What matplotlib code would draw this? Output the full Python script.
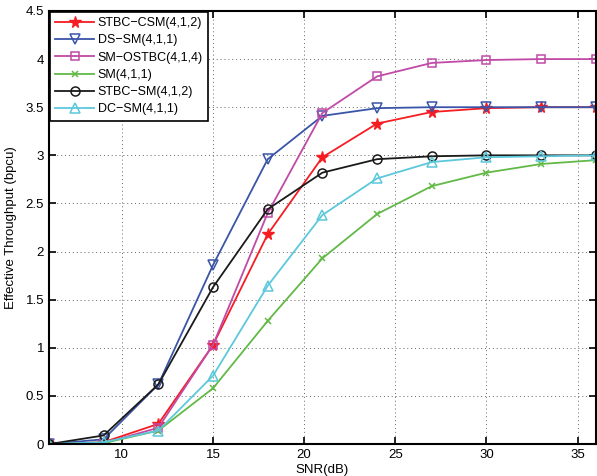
import numpy as np
import matplotlib
matplotlib.use("Agg")
import matplotlib.pyplot as plt

plt.rcParams['font.family'] = ['Liberation Sans', 'DejaVu Sans']

snr = [6, 9, 12, 15, 18, 21, 24, 27, 30, 33, 36]

stbc_csm = [0, 0.02, 0.21, 1.03, 2.18, 2.98, 3.33, 3.45, 3.49, 3.50, 3.50]
ds_sm = [0, 0.05, 0.62, 1.86, 2.96, 3.41, 3.49, 3.50, 3.50, 3.50, 3.50]
sm_ostbc = [0, 0.01, 0.17, 1.03, 2.40, 3.44, 3.82, 3.96, 3.99, 4.00, 4.00]
sm = [0, 0.01, 0.14, 0.58, 1.28, 1.93, 2.39, 2.68, 2.82, 2.91, 2.95]
stbc_sm = [0, 0.09, 0.62, 1.63, 2.44, 2.82, 2.96, 2.99, 3.00, 3.00, 3.00]
dc_sm = [0, 0.02, 0.14, 0.71, 1.645, 2.38, 2.76, 2.93, 2.98, 2.99, 3.00]

labels = ['STBC\u2212CSM(4,1,2)', 'DS\u2212SM(4,1,1)', 'SM\u2212OSTBC(4,1,4)',
          'SM(4,1,1)', 'STBC\u2212SM(4,1,2)', 'DC\u2212SM(4,1,1)']

fig = plt.figure(figsize=(5.97, 4.76), dpi=100)
ax = fig.add_axes([0.082, 0.067, 0.916, 0.91])

ax.plot(snr, stbc_csm, color='#f51d22', marker='*', ms=8.5, mfc='#f51d22', lw=1.3, label=labels[0])
ax.plot(snr, ds_sm, color='#3a55a8', marker='v', ms=6.5, mfc='none', mew=1.1, lw=1.3, label=labels[1])
ax.plot(snr, sm_ostbc, color='#c04aa6', marker='s', ms=5.5, mfc='none', mew=1.1, lw=1.3, label=labels[2])
ax.plot(snr, sm, color='#62b946', marker='x', ms=4.5, mew=1.1, lw=1.3, label=labels[3])
ax.plot(snr, stbc_sm, color='#1a1a1a', marker='o', ms=6.5, mfc='none', mew=1.1, lw=1.3, label=labels[4])
ax.plot(snr, dc_sm, color='#5cc8dc', marker='^', ms=6.5, mfc='none', mew=1.1, lw=1.3, label=labels[5])

ax.set_xlim(6, 36)
ax.set_ylim(0, 4.5)
ax.set_xticks([10, 15, 20, 25, 30, 35])
ax.set_yticks(np.arange(0, 4.51, 0.5))
ax.set_yticklabels(['0', '0.5', '1', '1.5', '2', '2.5', '3', '3.5', '4', '4.5'])
ax.grid(True, linestyle=(0, (1, 3)), color='#666666', lw=0.7)
ax.tick_params(direction='in', labelsize=9.5, length=5, width=1.2, top=True, right=True)
for s in ax.spines.values():
    s.set_linewidth(1.5)

ax.set_xlabel('SNR(dB)', fontsize=9.5, labelpad=2)
ax.set_ylabel('Effective Throughput (bpcu)', fontsize=9.5, labelpad=6)

leg = ax.legend(loc='upper left', fontsize=9, fancybox=False, framealpha=1,
                edgecolor='black', borderaxespad=0.05, handlelength=3.1,
                handletextpad=0.3, labelspacing=0.42, borderpad=0.45)
leg.get_frame().set_linewidth(1.2)

fig.savefig('out.png', dpi=100)
